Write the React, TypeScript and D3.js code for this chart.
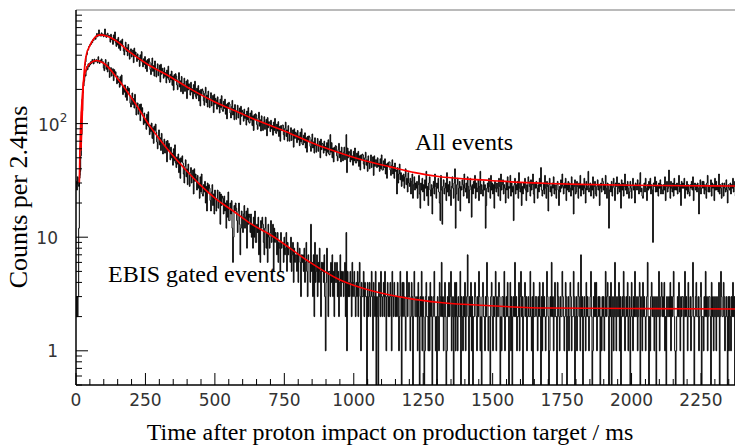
import React from 'react';
import * as d3 from 'd3';

const BIN_WIDTH = 2.4; // ms per bin

// "All events" histogram, counts per 2.4 ms bin
const allEvents: number[] = [
  31, 26, 34, 29, 28, 33, 38, 52, 80, 130,
  186, 214, 251, 327, 349, 392, 405, 441, 446, 478,
  479, 503, 497, 528, 515, 547, 538, 561, 574, 552,
  596, 622, 581, 609, 668, 594, 612, 588, 629, 603,
  614, 581, 598, 681, 590, 573, 609, 625, 584, 597,
  590, 521, 612, 548, 566, 498, 603, 537, 641, 515,
  478, 552, 493, 574, 459, 526, 441, 537, 497, 555,
  488, 436, 402, 470, 521, 431, 467, 396, 498, 440,
  369, 421, 455, 386, 413, 445, 344, 462, 392, 427,
  398, 352, 411, 366, 381, 319, 403, 357, 430, 345,
  316, 372, 331, 389, 305, 357, 287, 366, 335, 374,
  350, 299, 270, 337, 378, 288, 324, 262, 356, 303,
  257, 305, 336, 264, 295, 327, 232, 333, 272, 307,
  289, 251, 310, 260, 281, 228, 296, 252, 320, 243,
  230, 272, 242, 290, 217, 262, 197, 270, 245, 275,
  262, 219, 199, 247, 281, 210, 238, 191, 260, 222,
  183, 225, 251, 192, 216, 237, 166, 243, 198, 224,
  212, 178, 231, 190, 203, 165, 220, 183, 236, 174,
  166, 205, 178, 216, 158, 195, 143, 200, 180, 202,
  194, 159, 145, 185, 209, 153, 178, 140, 193, 163,
  138, 168, 187, 143, 161, 177, 125, 181, 148, 167,
  160, 134, 172, 141, 152, 124, 164, 138, 176, 132,
  128, 157, 136, 164, 121, 147, 110, 151, 137, 154,
  149, 124, 112, 141, 160, 119, 136, 108, 147, 127,
  109, 130, 145, 112, 126, 137, 98, 142, 116, 131,
  126, 105, 134, 111, 120, 97, 129, 108, 138, 103,
  101, 124, 107, 130, 96, 117, 87, 120, 109, 122,
  119, 98, 89, 112, 126, 95, 108, 86, 117, 100,
  87, 103, 115, 89, 101, 109, 78, 113, 92, 104,
  101, 85, 107, 90, 96, 79, 103, 87, 111, 83,
  82, 99, 86, 104, 77, 94, 70, 96, 87, 97,
  97, 80, 72, 91, 103, 77, 88, 70, 96, 81,
  70, 83, 92, 71, 81, 88, 62, 90, 74, 84,
  82, 68, 87, 72, 78, 64, 84, 69, 90, 66,
  65, 79, 68, 83, 61, 75, 56, 77, 70, 78,
  76, 63, 57, 72, 81, 61, 69, 55, 75, 64,
  56, 66, 74, 57, 65, 70, 50, 73, 59, 67,
  66, 55, 70, 58, 63, 52, 68, 56, 72, 54,
  53, 80, 56, 68, 50, 61, 46, 62, 57, 64,
  63, 52, 47, 59, 67, 50, 57, 46, 62, 53,
  47, 56, 62, 48, 54, 80, 37, 61, 50, 57,
  55, 46, 59, 48, 52, 43, 57, 47, 61, 45,
  45, 55, 47, 57, 42, 52, 39, 53, 48, 54,
  53, 44, 40, 50, 56, 43, 48, 38, 52, 45,
  40, 47, 53, 41, 46, 51, 35, 52, 42, 48,
  48, 41, 50, 42, 45, 38, 49, 40, 53, 39,
  39, 47, 41, 49, 36, 44, 33, 45, 42, 46,
  46, 39, 35, 43, 48, 36, 42, 33, 45, 38,
  39, 24, 41, 30, 36, 44, 32, 37, 28, 35,
  31, 36, 27, 34, 40, 29, 33, 25, 37, 30,
  28, 33, 24, 31, 36, 22, 29, 34, 26, 30,
  27, 31, 22, 29, 35, 24, 18, 30, 26, 33,
  25, 29, 21, 32, 27, 38, 23, 28, 19, 30,
  34, 26, 23, 29, 16, 27, 31, 24, 36, 28,
  22, 30, 27, 33, 25, 20, 14, 35, 26, 13,
  28, 32, 24, 27, 30, 21, 37, 25, 29, 23,
  31, 26, 19, 28, 34, 27, 22, 30, 40, 12,
  24, 29, 33, 21, 27, 31, 17, 28, 26, 32,
  29, 23, 36, 27, 25, 30, 22, 34, 28, 20,
  26, 33, 28, 15, 29, 24, 31, 27, 35, 22,
  30, 25, 27, 32, 21, 28, 38, 24, 29, 26,
  23, 31, 26, 29, 12, 19, 27, 30, 25, 33,
  28, 22, 35, 26, 30, 24, 29, 18, 31, 27,
  25, 30, 27, 23, 33, 28, 21, 36, 26, 29,
  32, 24, 29, 27, 20, 31, 26, 34, 22, 28,
  27, 35, 23, 30, 25, 28, 14, 29, 33, 24,
  29, 26, 31, 22, 37, 27, 25, 30, 19, 28,
  24, 30, 27, 33, 26, 21, 29, 25, 34, 31,
  28, 23, 32, 26, 29, 36, 24, 20, 30, 27,
  31, 27, 22, 29, 25, 33, 28, 41, 26, 23,
  26, 30, 24, 35, 27, 22, 31, 28, 17, 29,
  33, 25, 28, 23, 30, 27, 34, 24, 29, 26,
  22, 29, 31, 26, 19, 28, 25, 32, 27, 36,
  28, 24, 30, 27, 33, 21, 29, 26, 31, 25,
  30, 27, 23, 34, 26, 29, 16, 28, 32, 24,
  25, 31, 28, 22, 30, 27, 35, 23, 29, 26,
  29, 24, 33, 27, 20, 31, 26, 28, 38, 25,
  27, 30, 23, 29, 26, 34, 22, 28, 31, 24,
  23, 28, 32, 26, 29, 19, 27, 30, 25, 33,
  31, 26, 29, 24, 35, 27, 22, 30, 28, 12,
  26, 29, 25, 31, 23, 28, 33, 27, 21, 30,
  28, 34, 24, 27, 30, 25, 29, 18, 32, 26,
  30, 23, 28, 36, 26, 29, 24, 31, 27, 22,
  25, 31, 27, 22, 29, 33, 26, 28, 20, 30,
  29, 26, 32, 28, 24, 30, 37, 25, 27, 23,
  22, 28, 30, 25, 33, 27, 21, 29, 26, 31,
  27, 33, 24, 29, 26, 9, 30, 28, 34, 25,
  31, 25, 28, 23, 30, 27, 32, 24, 29, 26,
  24, 29, 26, 34, 21, 28, 31, 25, 27, 39,
  28, 22, 31, 27, 25, 30, 23, 33, 26, 29,
  26, 30, 24, 28, 35, 25, 29, 19, 31, 27,
  30, 27, 33, 22, 28, 26, 31, 24, 29, 25,
  23, 29, 27, 31, 26, 34, 21, 28, 30, 26,
  29, 25, 30, 27, 16, 28, 32, 24, 27, 31,
  27, 31, 24, 29, 26, 22, 30, 35, 25, 28,
  25, 28, 32, 23, 30, 27, 29, 21, 33, 26,
  31, 26, 28, 25, 36, 24, 29, 27, 22, 30,
  28, 23, 30, 27, 25, 32, 26, 20, 29, 27,
  26, 30, 24, 29, 27, 33, 25, 28, 31, 23,
];

// "EBIS gated events" histogram, counts per 2.4 ms bin
const ebisEvents: number[] = [
  2, 3, 2, 3, 12, 35, 62, 95, 128, 165,
  196, 231, 238, 270, 262, 291, 318, 298, 336, 316,
  341, 329, 352, 338, 367, 347, 335, 370, 349, 358,
  366, 351, 342, 388, 355, 338, 362, 349, 371, 344,
  351, 309, 292, 338, 366, 301, 329, 285, 347, 316,
  255, 290, 311, 262, 282, 304, 239, 298, 268, 286,
  256, 224, 263, 230, 245, 209, 259, 218, 268, 221,
  180, 208, 189, 219, 171, 202, 160, 212, 193, 205,
  178, 151, 140, 170, 186, 147, 166, 137, 181, 154,
  119, 140, 152, 121, 134, 147, 106, 149, 126, 138,
  117, 98, 124, 101, 110, 89, 121, 96, 127, 93,
  80, 97, 85, 101, 74, 92, 67, 95, 87, 99,
  84, 69, 60, 78, 88, 65, 75, 58, 82, 70,
  54, 66, 73, 55, 63, 70, 46, 71, 58, 67,
  59, 48, 62, 50, 55, 43, 60, 47, 65, 45,
  41, 51, 44, 54, 37, 49, 33, 50, 46, 52,
  45, 36, 30, 42, 48, 34, 40, 29, 44, 37,
  28, 37, 41, 30, 35, 39, 24, 40, 31, 36,
  33, 26, 35, 27, 30, 22, 34, 25, 36, 24,
  23, 29, 25, 31, 20, 28, 17, 30, 25, 29,
  27, 21, 17, 25, 29, 19, 24, 16, 26, 22,
  17, 22, 26, 18, 21, 25, 13, 24, 19, 23,
  22, 16, 23, 17, 20, 12, 21, 15, 25, 14,
  14, 20, 16, 21, 12, 6, 10, 19, 17, 20,
  18, 14, 11, 17, 20, 13, 7, 12, 17, 15,
  11, 16, 19, 12, 15, 17, 8, 18, 13, 16,
  15, 11, 16, 10, 13, 8, 15, 10, 17, 9,
  9, 13, 11, 15, 7, 12, 6, 14, 12, 15,
  13, 9, 7, 12, 15, 8, 11, 6, 13, 10,
  8, 11, 14, 9, 10, 13, 5, 12, 9, 11,
  10, 7, 11, 6, 9, 8, 5, 11, 8, 9,
  9, 6, 10, 7, 8, 11, 5, 9, 7, 8,
  8, 6, 10, 5, 7, 9, 4, 8, 6, 7,
  7, 5, 9, 4, 7, 8, 6, 3, 7, 6,
  7, 5, 8, 4, 6, 9, 5, 3, 7, 6,
  6, 4, 13, 5, 6, 3, 7, 2, 9, 4,
  5, 7, 3, 6, 4, 8, 5, 2, 6, 5,
  6, 4, 7, 3, 1, 4, 8, 5, 2, 5,
  5, 3, 6, 4, 7, 3, 5, 2, 6, 4,
  4, 6, 3, 5, 2, 4, 7, 3, 5, 4,
  5, 3, 4, 6, 2, 11, 1, 5, 3, 4,
  3, 5, 4, 2, 6, 3, 4, 5, 3, 2,
  4, 3, 5, 2, 4, 6, 3, 1, 4, 3,
  3, 5, 2, 4, 3, 3, 0, 4, 2, 3,
  4, 2, 3, 5, 3, 1, 4, 3, 2, 5,
  0, 3, 2, 0, 4, 3, 2, 5, 3, 2,
  3, 4, 2, 5, 3, 1, 3, 4, 2, 3,
  2, 4, 3, 1, 5, 3, 2, 4, 3, 2,
  3, 2, 4, 3, 1, 2, 5, 3, 0, 4,
  2, 4, 3, 2, 1, 3, 5, 2, 3, 4,
  3, 1, 2, 4, 3, 0, 2, 5, 3, 2,
  2, 3, 1, 4, 2, 0, 3, 2, 5, 1,
  3, 2, 0, 1, 3, 4, 2, 2, 1, 3,
  1, 4, 2, 3, 0, 2, 3, 5, 2, 1,
  2, 0, 3, 2, 1, 4, 3, 2, 6, 2,
  3, 1, 2, 4, 2, 0, 1, 3, 2, 4,
  2, 3, 5, 1, 2, 3, 0, 2, 4, 1,
  4, 2, 1, 3, 2, 2, 5, 0, 3, 2,
  1, 3, 2, 4, 1, 2, 3, 7, 2, 0,
  3, 2, 4, 1, 3, 0, 2, 2, 4, 3,
  2, 1, 3, 2, 5, 3, 1, 2, 0, 3,
  4, 2, 2, 1, 3, 2, 6, 3, 1, 2,
  2, 0, 3, 4, 2, 1, 3, 2, 3, 5,
  1, 3, 2, 2, 4, 3, 0, 2, 1, 3,
  3, 2, 5, 1, 2, 3, 2, 4, 2, 0,
  2, 4, 1, 3, 0, 2, 3, 2, 6, 2,
  3, 1, 2, 2, 4, 1, 3, 5, 2, 3,
  0, 2, 3, 4, 2, 3, 1, 2, 3, 2,
  2, 5, 2, 1, 3, 0, 4, 2, 2, 3,
  3, 2, 1, 3, 2, 4, 2, 0, 3, 1,
  4, 2, 3, 2, 1, 2, 5, 3, 2, 0,
  1, 3, 2, 6, 2, 3, 1, 2, 4, 2,
  2, 0, 4, 3, 2, 1, 3, 2, 2, 5,
  3, 2, 1, 2, 4, 3, 0, 2, 3, 1,
  2, 4, 3, 1, 2, 2, 5, 3, 0, 2,
  3, 1, 2, 4, 3, 2, 1, 7, 2, 3,
  0, 2, 3, 2, 1, 4, 2, 3, 2, 1,
  2, 3, 5, 2, 0, 1, 3, 2, 4, 2,
  4, 1, 2, 3, 2, 3, 0, 2, 1, 3,
  2, 3, 1, 2, 5, 2, 3, 4, 2, 0,
  3, 2, 4, 0, 2, 3, 1, 2, 6, 2,
  1, 3, 2, 2, 4, 1, 3, 0, 2, 3,
  2, 5, 3, 1, 2, 3, 2, 4, 1, 2,
  3, 0, 2, 4, 2, 1, 3, 2, 5, 2,
  2, 3, 1, 2, 3, 4, 0, 3, 2, 1,
  4, 2, 3, 2, 1, 2, 3, 6, 2, 0,
  2, 1, 3, 4, 2, 3, 2, 1, 3, 2,
  0, 3, 2, 2, 5, 1, 2, 3, 4, 2,
  3, 2, 4, 1, 2, 0, 3, 2, 2, 3,
  2, 4, 1, 3, 2, 3, 5, 2, 1, 0,
  1, 2, 3, 2, 4, 2, 1, 3, 2, 3,
  3, 0, 2, 5, 2, 3, 2, 1, 4, 2,
  2, 3, 1, 2, 3, 6, 2, 0, 2, 3,
  4, 2, 2, 3, 1, 2, 3, 4, 0, 2,
  2, 1, 3, 2, 5, 2, 3, 1, 2, 3,
  3, 2, 0, 4, 2, 3, 1, 2, 3, 2,
  1, 3, 2, 2, 4, 0, 2, 5, 3, 2,
  2, 4, 3, 1, 2, 3, 2, 0, 3, 1,
  3, 2, 1, 3, 2, 4, 2, 3, 0, 2,
];

// Fit curves (red): [time ms, counts]
const allFitT = [18, 22, 26, 32, 38, 50, 70, 86, 110, 140, 194, 260, 328, 410, 500, 591, 627, 700, 771, 860, 951, 1040, 1131, 1220, 1311, 1400, 1491, 1600, 1700, 1815, 2000, 2200, 2376];
const allFitV = [58, 107, 209, 336, 411, 486, 580, 604, 590, 545, 425, 330, 268, 203, 155, 124, 113, 96, 82, 66, 55, 47, 41.6, 37, 34, 32.6, 31.6, 30.4, 29.7, 29.2, 28.7, 28.4, 28.2];
const ebisFitT = [12, 14, 16, 20, 25, 32, 50, 74, 100, 146, 206, 266, 328, 400, 446, 506, 566, 626, 711, 830, 951, 1071, 1191, 1311, 1491, 1695, 2055, 2376];
const ebisFitV = [30, 58, 87, 139, 208, 276, 338, 359, 340, 256, 160, 95, 60, 38, 29, 21.5, 17, 13.3, 10.1, 6.3, 4.2, 3.34, 2.91, 2.66, 2.49, 2.38, 2.35, 2.33];

const xTickLabels = [0, 250, 500, 750, 1000, 1250, 1500, 1750, 2000, 2250];
const xMinorStep = 50;
const yMajorTicks = [1, 10, 100];

export default function App() {
  const W = 735, H = 447;
  const left = 76, right = 736, top = 10, bottom = 385;
  const x = d3.scaleLinear().domain([0, 2376]).range([left, right]);
  const y = d3.scaleLog().domain([0.5, 1000]).range([bottom, top]).clamp(true);

  const histPath = (vals: number[]) => {
    const pts: [number, number][] = vals.map((v, i) => [i * BIN_WIDTH, v]);
    pts.push([vals.length * BIN_WIDTH, vals[vals.length - 1]]);
    return d3.line<[number, number]>()
      .x(d => x(d[0]))
      .y(d => y(Math.max(d[1], 0.5)))
      .curve(d3.curveStepAfter)(pts) || '';
  };
  const fitPath = (ts: number[], vs: number[]) => {
    const pts: [number, number][] = ts.map((t, i) => [t, vs[i]]);
    return d3.line<[number, number]>()
      .x(d => x(d[0]))
      .y(d => y(d[1]))
      .curve(d3.curveMonotoneX)(pts) || '';
  };

  const xMinor = d3.range(0, 2376, xMinorStep).filter(v => v % 250 !== 0);
  const yMinor: number[] = [];
  [0.1, 1, 10, 100].forEach(dec => {
    for (let k = 2; k <= 9; k++) {
      const v = dec * k;
      if (v >= 0.5 && v < 1000) yMinor.push(v);
    }
  });

  const tickFont = "'DejaVu Sans', sans-serif";
  const serif = "'Liberation Serif', 'Times New Roman', serif";

  return (
    <svg width={W} height={H} style={{ position: 'absolute', left: 0, top: 0, background: '#fff' }}>
      <defs>
        <clipPath id="plotClip">
          <rect x={left} y={top} width={right - left} height={bottom - top} />
        </clipPath>
      </defs>
      <rect x={0} y={0} width={W} height={H} fill="#fff" />
      <g clipPath="url(#plotClip)">
        <path d={histPath(allEvents)} fill="none" stroke="#000" strokeWidth={1} />
        <path d={histPath(ebisEvents)} fill="none" stroke="#000" strokeWidth={1} />
        <path d={fitPath(allFitT, allFitV)} fill="none" stroke="#ff0000" strokeWidth={1.6} />
        <path d={fitPath(ebisFitT, ebisFitV)} fill="none" stroke="#ff0000" strokeWidth={1.6} />
      </g>
      {/* frame */}
      <line x1={left} x2={W} y1={top} y2={top} stroke="#777" strokeWidth={1.2} />
      <line x1={left} x2={left} y1={top} y2={bottom} stroke="#000" strokeWidth={1.5} />
      <line x1={left} x2={W} y1={bottom} y2={bottom} stroke="#000" strokeWidth={1.5} />
      {/* x ticks */}
      {xTickLabels.map(v => (
        <g key={'xt' + v}>
          <line x1={x(v)} x2={x(v)} y1={bottom} y2={bottom - 12} stroke="#000" strokeWidth={1} />
          <text x={x(v)} y={406} textAnchor="middle" fontFamily={tickFont} fontSize={17} fill="#333">{v}</text>
        </g>
      ))}
      {xMinor.map(v => (
        <line key={'xm' + v} x1={x(v)} x2={x(v)} y1={bottom} y2={bottom - 6} stroke="#000" strokeWidth={1} />
      ))}
      {/* y ticks */}
      {yMajorTicks.map(v => (
        <line key={'yt' + v} x1={left} x2={left + 12} y1={y(v)} y2={y(v)} stroke="#000" strokeWidth={1} />
      ))}
      {yMinor.map(v => (
        <line key={'ym' + v} x1={left} x2={left + 6} y1={y(v)} y2={y(v)} stroke="#000" strokeWidth={1} />
      ))}
      <text x={58} y={y(1) + 6} textAnchor="end" fontFamily={tickFont} fontSize={17} fill="#333">1</text>
      <text x={58} y={y(10) + 7} textAnchor="end" fontFamily={tickFont} fontSize={17} fill="#333">10</text>
      <text x={38} y={y(100) + 7} textAnchor="start" fontFamily={tickFont} fontSize={17} fill="#333">
        10<tspan dy={-9} fontSize={12}>2</tspan>
      </text>
      {/* titles */}
      <text x={390} y={440} textAnchor="middle" fontFamily={serif} fontSize={24} fill="#000">
        Time after proton impact on production target / ms
      </text>
      <text transform="translate(27,197) rotate(-90)" textAnchor="middle" fontFamily={serif} fontSize={26} fill="#000">
        Counts per 2.4ms
      </text>
      <text x={415} y={150} fontFamily={serif} fontSize={24} fill="#000">All events</text>
      <text x={108} y={282} fontFamily={serif} fontSize={24} fill="#000">EBIS gated events</text>
    </svg>
  );
}
